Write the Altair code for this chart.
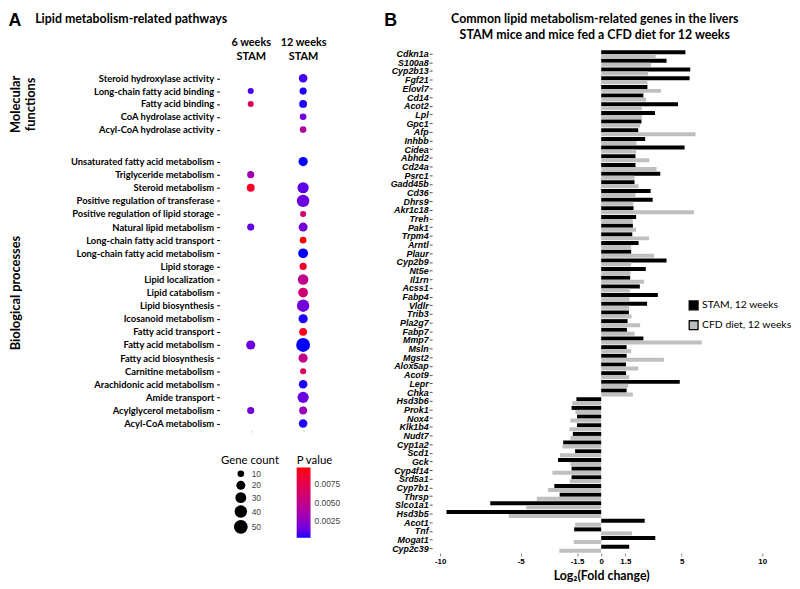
import altair as alt
import pandas as pd

FONT = "Lato"
ARIAL = "Liberation Sans"

# ---------------- Panel B data ----------------
genes = ["Cdkn1a", "S100a8", "Cyp2b13", "Fgf21", "Elovl7", "Cd14", "Acot2", "Lpl", "Gpc1", "Afp",
         "Inhbb", "Cidea", "Abhd2", "Cd24a", "Psrc1", "Gadd45b", "Cd36", "Dhrs9", "Akr1c18", "Treh",
         "Pak1", "Trpm4", "Arntl", "Plaur", "Cyp2b9", "Nt5e", "Il1rn", "Acss1", "Fabp4", "Vldlr",
         "Trib3", "Pla2g7", "Fabp7", "Mmp7", "Msln", "Mgst2", "Alox5ap", "Acot9", "Lepr", "Chka",
         "Hsd3b6", "Prok1", "Nox4", "Klk1b4", "Nudt7", "Cyp1a2", "Scd1", "Gck", "Cyp4f14", "Srd5a1",
         "Cyp7b1", "Thrsp", "Slco1a1", "Hsd3b5", "Acot1", "Tnf", "Mogat1", "Cyp2c39"]
stam_fc = [5.23, 4.06, 5.53, 5.49, 2.87, 2.62, 4.77, 3.34, 2.50, 2.30,
           2.73, 5.18, 2.13, 2.13, 3.67, 2.07, 3.07, 3.20, 2.01, 2.17,
           1.97, 1.93, 2.32, 1.86, 4.06, 2.77, 1.80, 2.40, 3.52, 2.85,
           1.72, 1.64, 1.60, 2.62, 1.58, 1.58, 1.54, 1.54, 4.88, 1.58,
           -1.54, -1.84, -1.50, -1.50, -1.76, -2.36, -1.62, -2.68, -1.84, -1.84,
           -2.91, -2.58, -6.89, -9.61, 2.70, -1.68, 3.36, 1.74]
cfd_fc = [3.38, 3.09, 2.91, 2.87, 3.71, 2.79, 2.52, 2.54, 2.42, 5.86,
          2.19, 2.17, 2.99, 3.44, 2.07, 2.32, 2.13, 1.99, 5.76, 1.97,
          2.17, 2.97, 1.86, 3.28, 1.86, 1.82, 2.66, 1.78, 1.76, 1.74,
          1.89, 2.42, 2.07, 6.25, 1.86, 3.89, 2.30, 1.74, 1.68, 1.97,
          -1.80, -1.60, -1.91, -1.97, -1.91, -2.40, -2.56, -1.91, -3.03, -1.95,
          -3.30, -4.00, -4.65, -5.74, -1.62, 1.91, -1.70, -2.60]
series = ["STAM, 12 weeks", "CFD diet, 12 weeks"]
series_colors = ["#000000", "#bfbfbf"]
x_ticks = [-10, -5, -1.5, 0, 1.5, 5, 10]
b_title = ["Common lipid metabolism-related genes in the livers",
           "STAM mice and mice fed a CFD diet for 12 weeks"]

# ---------------- Panel A data ----------------
stages = ["6 weeks\nSTAM", "12 weeks\nSTAM"]
mol_terms = ["Steroid hydroxylase activity", "Long-chain fatty acid binding", "Fatty acid binding",
             "CoA hydrolase activity", "Acyl-CoA hydrolase activity"]
bio_terms = ["Unsaturated fatty acid metabolism", "Triglyceride metabolism", "Steroid metabolism",
             "Positive regulation of transferase", "Positive regulation of lipid storage",
             "Natural lipid metabolism", "Long-chain fatty acid transport",
             "Long-chain fatty acid metabolism", "Lipid storage", "Lipid localization",
             "Lipid catabolism", "Lipid biosynthesis", "Icosanoid metabolism", "Fatty acid transport",
             "Fatty acid metabolism", "Fatty acid biosynthesis", "Carnitine metabolism",
             "Arachidonic acid metabolism", "Amide transport", "Acylglycerol metabolism",
             "Acyl-CoA metabolism"]

mol_term = ["Steroid hydroxylase activity", "Long-chain fatty acid binding", "Long-chain fatty acid binding",
            "Fatty acid binding", "Fatty acid binding", "CoA hydrolase activity", "Acyl-CoA hydrolase activity"]
mol_stage = [1, 0, 1, 0, 1, 1, 1]
mol_count = [18, 8, 12, 8, 15, 10, 10]
mol_p = [0.0007, 0.0008, 0.0004, 0.0068, 0.0004, 0.0016, 0.0042]

bio_term = ["Unsaturated fatty acid metabolism", "Triglyceride metabolism", "Steroid metabolism",
            "Steroid metabolism", "Positive regulation of transferase", "Positive regulation of lipid storage",
            "Natural lipid metabolism", "Natural lipid metabolism", "Long-chain fatty acid transport",
            "Long-chain fatty acid metabolism", "Lipid storage", "Lipid localization", "Lipid catabolism",
            "Lipid biosynthesis", "Icosanoid metabolism", "Fatty acid transport", "Fatty acid metabolism",
            "Fatty acid metabolism", "Fatty acid biosynthesis", "Carnitine metabolism",
            "Arachidonic acid metabolism", "Amide transport", "Acylglycerol metabolism",
            "Acylglycerol metabolism", "Acyl-CoA metabolism"]
bio_stage = [1, 0, 0, 1, 1, 1, 0, 1, 1, 1, 1, 1, 1, 1, 1, 1, 0, 1, 1, 1, 1, 1, 0, 1, 1]
bio_count = [21, 12, 15, 32, 40, 8, 12, 20, 10, 24, 12, 28, 24, 40, 21, 15, 21, 50, 21, 8, 18, 32, 12, 15, 18]
bio_p = [0.0003, 0.0033, 0.0088, 0.0012, 0.0015, 0.0062, 0.0013, 0.0017, 0.0097, 0.0003,
         0.0088, 0.0048, 0.0060, 0.0017, 0.0004, 0.0090, 0.0015, 0.0003, 0.0050, 0.0068,
         0.0004, 0.0014, 0.0016, 0.0030, 0.0004]

size_values = [10, 20, 30, 40, 50]
p_ticks = [0.0025, 0.005, 0.0075]

# ---------------- frames ----------------
mol_df = pd.DataFrame({"term": mol_term, "stage": [stages[i] for i in mol_stage],
                       "count": mol_count, "p": mol_p})
bio_df = pd.DataFrame({"term": bio_term, "stage": [stages[i] for i in bio_stage],
                       "count": bio_count, "p": bio_p})
b_df = pd.DataFrame({"gene": genes * 2,
                     "series": [series[0]] * len(genes) + [series[1]] * len(genes),
                     "value": stam_fc + cfd_fc})

p_scale = alt.Scale(domain=[0.0003, 0.0097], range=["#0000ff", "#ff0000"], interpolate="lab")
size_scale = alt.Scale(domain=[10, 50], range=[45, 196], zero=False)

size_legend = alt.Legend(orient="none", legendX=-3.5, legendY=410, title="Gene count",
                         titleFont=FONT, titleFontSize=11.5, titleFontWeight="normal", titleColor="black",
                         titlePadding=3, labelFont=ARIAL, labelFontSize=8.5, labelColor="#444444",
                         values=size_values, symbolFillColor="black", symbolStrokeWidth=0,
                         symbolOpacity=1, symbolOffset=13, rowPadding=2, symbolType="circle")
color_legend = alt.Legend(orient="none", legendX=73, legendY=410, title="P value",
                          titleFont=FONT, titleFontSize=11.5, titleFontWeight="normal", titleColor="black",
                          titlePadding=1, gradientLength=71, gradientThickness=14,
                          values=p_ticks, format=".4f", labelFont=ARIAL, labelFontSize=8.5,
                          labelColor="#444444", labelOffset=4, direction="vertical",
                          gradientStrokeWidth=0)

xsc = alt.Scale(type="point", domain=stages, padding=0.5)


def dot_panel(df, terms, height, title_lines, title_x, header):
    if header:
        xaxis = alt.Axis(orient="top", labelExpr="split(datum.label, '\\n')", ticks=False, domain=False,
                         labelAngle=0, labelFont=FONT, labelFontSize=11, labelFontWeight="bold",
                         labelColor="black", labelPadding=25, labelLineHeight=15, title=None)
    else:
        xaxis = alt.Axis(orient="bottom", labels=False, domain=False, ticks=True, tickSize=2,
                         tickColor="#c8c8c8", title=None)
    return alt.Chart(df).mark_circle(opacity=1).encode(
        x=alt.X("stage:N", scale=xsc, axis=xaxis),
        y=alt.Y("term:N", sort=terms,
                scale=alt.Scale(type="point", domain=terms, padding=0.5),
                axis=alt.Axis(title=title_lines, titleFont=FONT, titleFontSize=13,
                              titleFontWeight="bold", titleColor="black", titleAngle=-90,
                              titleX=title_x, titleBaseline="bottom",
                              labelFont=FONT, labelFontSize=9.5, labelFontWeight="bold",
                              labelColor="black", labelLimit=400, domain=False, ticks=True,
                              tickSize=3, tickColor="black", offset=5, labelPadding=3)),
        size=alt.Size("count:Q", scale=size_scale, legend=size_legend),
        color=alt.Color("p:Q", scale=p_scale, legend=color_legend),
    ).properties(width=106, height=height)


def note(text, x, y, size, weight="bold", align="left", baseline="alphabetic", font=FONT):
    return alt.Chart(pd.DataFrame({"t": [text]})).mark_text(
        font=font, fontSize=size, fontWeight=weight, align=align, baseline=baseline, color="black"
    ).encode(text="t:N", x=alt.value(x), y=alt.value(y))


hdr = alt.layer(
    note("A", -218.5, -38.6, 18, baseline="top", font=ARIAL),
    note("Lipid metabolism-related pathways", -191.5, -31.6, 12.5, baseline="middle"),
).properties(width=106, height=2.7)

mol = dot_panel(mol_df, mol_terms, 65, ["Molecular", "functions"], -199, True)
bio = dot_panel(bio_df, bio_terms, 278.25, "Biological processes", -199, False)

panel_a = alt.vconcat(hdr, mol, bio, spacing=19.2, bounds="flush")

bars = alt.Chart(b_df).mark_bar().encode(
    y=alt.Y("gene:N", sort=genes, scale=alt.Scale(paddingInner=0.08, paddingOuter=0.04),
            axis=alt.Axis(title=None, labelFont=ARIAL, labelFontSize=9, labelFontStyle="italic",
                          labelFontWeight="bold", labelColor="black", domain=False, ticks=True,
                          tickSize=3, tickColor="#555555", labelPadding=1)),
    yOffset=alt.YOffset("series:N", sort=series, scale=alt.Scale(domain=series, paddingInner=0)),
    x=alt.X("value:Q", scale=alt.Scale(domain=[-10.5, 10.5], nice=False, zero=False),
            axis=alt.Axis(values=x_ticks, labelExpr="'' + datum.value", domain=False, ticks=True,
                          tickSize=3, tickColor="#888888", labelFont=ARIAL, labelFontSize=8,
                          labelFontWeight="bold", labelColor="black", labelPadding=2,
                          title="Log\u2082(Fold change)", titleFont=FONT, titleFontSize=12.5,
                          titleFontWeight="bold", titleColor="black", titlePadding=4)),
    color=alt.Color("series:N", sort=series,
                    scale=alt.Scale(domain=series, range=series_colors),
                    legend=alt.Legend(orient="none", legendX=259, legendY=253, title=None,
                                      symbolType="square", symbolSize=80, symbolStrokeColor="black",
                                      symbolStrokeWidth=1.3, symbolOpacity=1, labelFont=FONT,
                                      labelFontSize=10.5, labelColor="black", rowPadding=5,
                                      labelOffset=3)),
)

panel_b = alt.layer(
    bars,
    note("B", -48.5, -38.6, 18, baseline="top", font=ARIAL),
    note(b_title[0], 164.5, -31.6, 12.5, align="center", baseline="middle"),
    note(b_title[1], 164.5, -14.6, 12.5, align="center", baseline="middle"),
).properties(width=342, height=509)

chart = alt.hconcat(panel_a, panel_b, spacing=210, bounds="flush").resolve_scale(
    color="independent", size="independent"
).properties(padding=0).configure_view(stroke=None).configure_axis(grid=False)

chart.save("out.html", embed_options={"renderer": "svg", "actions": False})
